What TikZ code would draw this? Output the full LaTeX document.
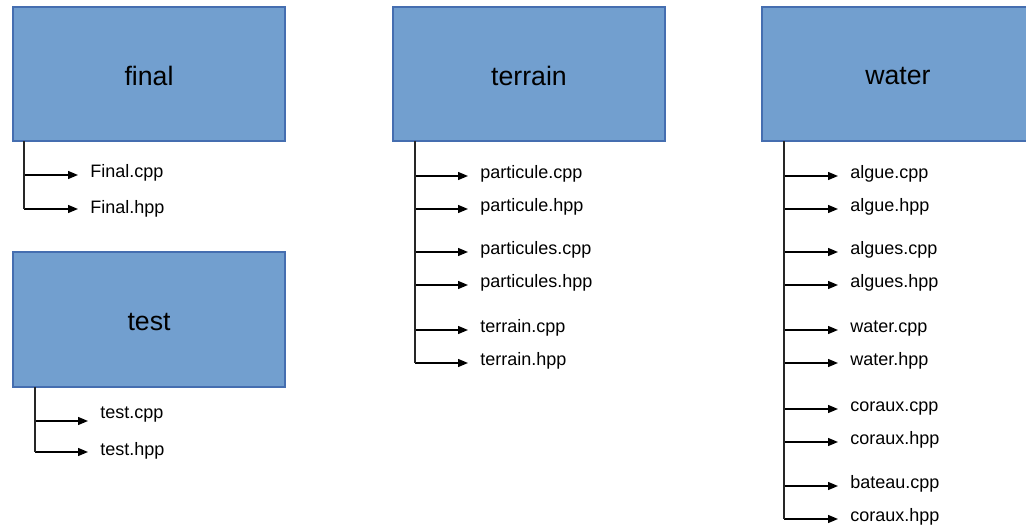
\documentclass[tikz,border=0pt]{standalone}
\usepackage{fontspec}
\setmainfont{Liberation Sans}
\usetikzlibrary{arrows.meta}
\definecolor{boxfill}{RGB}{114,159,207}
\definecolor{boxline}{RGB}{69,110,176}
\begin{document}
\begin{tikzpicture}[x=0.75pt,y=-0.75pt,
  folder/.style={draw=boxline, fill=boxfill, line width=0.8pt,
    minimum width=204pt, minimum height=100.5pt, inner sep=0pt,
    font=\fontsize{20}{24}\selectfont},
  title/.style={font=\fontsize{20}{24}\selectfont, inner sep=0pt},
  file/.style={anchor=base west, inner xsep=9pt, inner ysep=0pt,
    font=\fontsize{13.5}{16}\selectfont},
  trunk/.style={line width=1pt, draw=black!85},
  branch/.style={line width=1pt, -{Triangle[length=7.5pt,width=6pt]}}
]
\useasboundingbox (0,0) rectangle (1026,527);

% folder boxes
\node[folder] (final)   at (149,74)    {};
\node[folder, minimum height=101.25pt] (test) at (149,319.5) {};
\node[folder] (terrain) at (529,74)    {};
\node[folder] (water)   at (898,74)    {};
\node[title] (finalT)   at (149,76)  {final};
\node[title] (testT)    at (149,322) {test};
\node[title] (terrainT) at (529,76)  {terrain};
\node[title] (waterT)   at (898,76)  {water};

% final
\coordinate (ft) at (24,141);
\foreach \i/\ya/\yb/\t in {1/175/178/Final.cpp, 2/209/214/Final.hpp}{
  \coordinate (f\i) at (24,\ya);
  \node[file] (F\i) at (78,\yb) {\t};
  \draw[branch] (f\i) -- (f\i -| F\i.west);
}
\draw[trunk] (ft) -- (f2);

% test
\coordinate (tt) at (35,387);
\foreach \i/\ya/\yb/\t in {1/421/419/test.cpp, 2/452/456/test.hpp}{
  \coordinate (t\i) at (35,\ya);
  \node[file] (T\i) at (88,\yb) {\t};
  \draw[branch] (t\i) -- (t\i -| T\i.west);
}
\draw[trunk] (tt) -- (t2);

% terrain
\coordinate (rt) at (415,141);
\foreach \i/\ya/\t in {1/176/particule.cpp, 2/209/particule.hpp,
                       3/252/particules.cpp, 4/285/particules.hpp,
                       5/330/terrain.cpp, 6/363/terrain.hpp}{
  \coordinate (r\i) at (415,\ya);
  \node[file] (R\i) at (468,\ya+2.5) {\t};
  \draw[branch] (r\i) -- (r\i -| R\i.west);
}
\draw[trunk] (rt) -- (r6);

% water
\coordinate (wt) at (784,141);
\foreach \i/\ya/\t in {1/176/algue.cpp, 2/209/algue.hpp,
                       3/252/algues.cpp, 4/285/algues.hpp,
                       5/330/water.cpp, 6/363/water.hpp,
                       7/409/coraux.cpp, 8/442/coraux.hpp,
                       9/486/bateau.cpp, 10/519/coraux.hpp}{
  \coordinate (w\i) at (784,\ya);
  \node[file] (W\i) at (838,\ya+2.5) {\t};
  \draw[branch] (w\i) -- (w\i -| W\i.west);
}
\draw[trunk] (wt) -- (w10);
\end{tikzpicture}
\end{document}
